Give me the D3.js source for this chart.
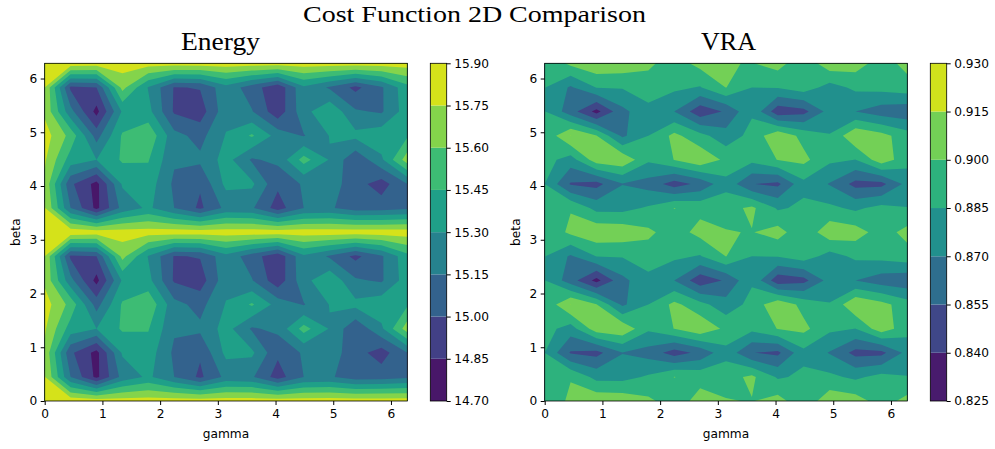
<!DOCTYPE html>
<html>
<head>
<meta charset="utf-8">
<script src="https://cdn.jsdelivr.net/npm/d3@7"></script>
<style>
  html, body { margin: 0; padding: 0; background: #fff; }
  svg { display: block; }
  .tick text { font-family: "DejaVu Sans", sans-serif; font-size: 12.2px; fill: #000; }
  .axis-label { font-family: "DejaVu Sans", sans-serif; font-size: 12.2px; fill: #000; }
  .title { font-family: "Liberation Serif", serif; fill: #000; }
</style>
</head>
<body>
<svg id="chart" width="995" height="449"></svg>
<script>
const gammaTicks = [0, 1, 2, 3, 4, 5, 6];
const betaTicks = [0, 1, 2, 3, 4, 5, 6];

const energyLevels = [14.70, 14.85, 15.00, 15.15, 15.30, 15.45, 15.60, 15.75, 15.90];
const vraLevels = [0.825, 0.840, 0.855, 0.870, 0.885, 0.900, 0.915, 0.930];

// one row per beta step (beta = 0 first), one column per gamma step
const energyValues = [
  [15.88,15.85,15.83,15.82,15.82,15.83,15.83,15.83,15.83,15.83,15.83,15.83,15.83,15.83,15.83],
  [15.76,15.15,14.81,15.20,15.33,15.15,14.97,15.19,15.17,14.93,15.15,15.17,15.07,15.08,15.12],
  [15.72,15.03,14.80,15.32,15.38,15.12,15.02,15.34,15.33,15.03,15.17,15.23,15.06,14.93,15.15],
  [15.77,15.38,15.30,15.47,15.46,15.17,15.18,15.36,15.13,15.19,15.51,15.29,15.03,15.27,15.68],
  [15.82,15.55,15.09,15.47,15.57,15.20,15.10,15.31,15.47,15.24,15.14,15.305,15.34,15.40,15.43],
  [15.72,15.20,14.80,15.32,15.35,14.98,14.92,15.25,15.16,14.90,15.25,15.42,15.17,15.13,15.38],
  [15.75,14.97,15.00,15.65,15.29,14.99,15.01,15.25,15.07,14.89,15.27,15.13,14.96,15.13,15.40],
  [15.88,15.85,15.83,15.82,15.82,15.83,15.83,15.83,15.83,15.83,15.83,15.83,15.83,15.83,15.83],
  [15.76,15.15,14.81,15.20,15.33,15.15,14.97,15.19,15.17,14.93,15.15,15.17,15.07,15.08,15.12],
  [15.72,15.03,14.80,15.32,15.38,15.12,15.02,15.34,15.33,15.03,15.17,15.23,15.06,14.93,15.15],
  [15.77,15.38,15.30,15.47,15.46,15.17,15.18,15.36,15.13,15.19,15.51,15.29,15.03,15.27,15.68],
  [15.82,15.55,15.09,15.47,15.57,15.20,15.10,15.31,15.47,15.24,15.14,15.305,15.34,15.40,15.43],
  [15.72,15.20,14.80,15.32,15.35,14.98,14.92,15.25,15.16,14.90,15.25,15.42,15.17,15.13,15.38],
  [15.75,14.97,15.00,15.65,15.29,14.99,15.01,15.25,15.07,14.89,15.27,15.13,14.96,15.13,15.40],
  [15.88,15.85,15.83,15.82,15.82,15.83,15.83,15.83,15.83,15.83,15.83,15.83,15.83,15.83,15.83]
];

const vraValues = [
  [.887,.9035,.9116,.910,.903,.8928,.905,.9008,.8994,.906,.889,.910,.907,.893,.905],
  [.889,.899,.880,.880,.887,.9003,.8956,.8944,.903,.883,.888,.8882,.882,.890,.8855],
  [.885,.8535,.850,.8695,.864,.848,.859,.880,.8555,.8515,.881,.869,.850,.8505,.875],
  [.891,.878,.9085,.912,.8875,.9003,.912,.8965,.889,.9005,.904,.888,.8848,.909,.8906],
  [.888,.9153,.9005,.867,.885,.904,.890,.876,.890,.912,.895,.8858,.9135,.905,.892],
  [.8855,.862,.835,.866,.8805,.870,.845,.857,.883,.845,.850,.876,.870,.862,.859],
  [.8855,.868,.8855,.886,.893,.888,.884,.9003,.885,.886,.893,.879,.888,.890,.894],
  [.887,.9035,.9116,.910,.903,.8928,.905,.9008,.8994,.906,.889,.910,.907,.893,.905],
  [.889,.899,.880,.880,.887,.9003,.8956,.8944,.903,.883,.888,.8882,.882,.890,.8855],
  [.885,.8535,.850,.8695,.864,.848,.859,.880,.8555,.8515,.881,.869,.850,.8505,.875],
  [.891,.878,.9085,.912,.8875,.9003,.912,.8965,.889,.9005,.904,.888,.8848,.909,.8906],
  [.888,.9153,.9005,.867,.885,.904,.890,.876,.890,.912,.895,.8858,.9135,.905,.892],
  [.8855,.862,.835,.866,.8805,.870,.845,.857,.883,.845,.850,.876,.870,.862,.859],
  [.8855,.868,.8855,.886,.893,.888,.884,.9003,.885,.886,.893,.879,.888,.890,.894],
  [.887,.9035,.9116,.910,.903,.8928,.905,.9008,.8994,.906,.889,.910,.907,.893,.905]
];

const svg = d3.select("#chart");

const plotTop = 63.3;
const plotBottom = 401;
const plotWidth = 362.6;
const barWidth = 16.4;
const barGap = 23;
const twoPi = 2 * Math.PI;

function drawPanel(id, left, name, nameLeft, nameWidth, grid, levels, tickFormat) {
  const rows = grid.length;
  const cols = grid[0].length;
  const step = twoPi / (cols - 1);

  const x = d3.scaleLinear().domain([0, twoPi]).range([left, left + plotWidth]);
  const y = d3.scaleLinear().domain([0, twoPi]).range([plotBottom, plotTop]);

  const color = d3.scaleSequential(d3.interpolateViridis)
    .domain([levels[0], levels[levels.length - 1]]);
  const bandColor = i => color((levels[i] + levels[i + 1]) / 2);

  svg.append("clipPath").attr("id", "clip-" + id)
    .append("rect")
    .attr("x", left).attr("y", plotTop)
    .attr("width", plotWidth).attr("height", plotBottom - plotTop);

  // d3.contours puts grid value k at k + 0.5
  const gridToData = d3.geoTransform({
    point(px, py) {
      this.stream.point(x((px - 0.5) * step), y((py - 0.5) * step));
    }
  });
  const path = d3.geoPath(gridToData);

  const contours = d3.contours()
    .size([cols, rows])
    .thresholds(levels.slice(0, -1))(d3.merge(grid));

  svg.append("g").attr("clip-path", `url(#clip-${id})`)
    .selectAll("path")
    .data(contours)
    .join("path")
    .attr("d", path)
    .attr("fill", (d, i) => bandColor(i));

  const xAxis = d3.axisBottom(x).tickValues(gammaTicks).tickFormat(d3.format("d")).tickSize(4).tickPadding(4.5);
  const yAxis = d3.axisLeft(y).tickValues(betaTicks).tickFormat(d3.format("d")).tickSize(4).tickPadding(3.5);

  svg.append("g").attr("transform", `translate(0,${plotBottom})`).call(xAxis)
    .call(g => g.select(".domain").remove());
  svg.append("g").attr("transform", `translate(${left},0)`).call(yAxis)
    .call(g => g.select(".domain").remove());

  svg.append("rect")
    .attr("x", left).attr("y", plotTop)
    .attr("width", plotWidth).attr("height", plotBottom - plotTop)
    .attr("fill", "none").attr("stroke", "#000").attr("stroke-width", 0.8);

  svg.append("text").attr("class", "axis-label")
    .attr("x", left + plotWidth / 2).attr("y", 437.5)
    .attr("text-anchor", "middle").text("gamma");
  svg.append("text").attr("class", "axis-label")
    .attr("transform", `translate(${left - 25},${(plotTop + plotBottom) / 2}) rotate(-90)`)
    .attr("text-anchor", "middle").text("beta");

  svg.append("text").attr("class", "title")
    .attr("x", nameLeft).attr("y", 50)
    .attr("font-size", 25)
    .attr("textLength", nameWidth)
    .attr("lengthAdjust", "spacingAndGlyphs")
    .text(name);

  // colour bar
  const barLeft = left + plotWidth + barGap;
  const barY = d3.scaleLinear()
    .domain([levels[0], levels[levels.length - 1]])
    .range([plotBottom, plotTop]);

  svg.append("g").selectAll("rect")
    .data(d3.range(levels.length - 1))
    .join("rect")
    .attr("x", barLeft)
    .attr("width", barWidth)
    .attr("y", i => barY(levels[i + 1]))
    .attr("height", i => barY(levels[i]) - barY(levels[i + 1]))
    .attr("fill", i => bandColor(i));

  svg.append("g").attr("transform", `translate(${barLeft + barWidth},0)`)
    .call(d3.axisRight(barY).tickValues(levels).tickFormat(d3.format(tickFormat)).tickSize(4).tickPadding(3.5))
    .call(g => g.select(".domain").remove());

  svg.append("rect")
    .attr("x", barLeft).attr("y", plotTop)
    .attr("width", barWidth).attr("height", plotBottom - plotTop)
    .attr("fill", "none").attr("stroke", "#000").attr("stroke-width", 0.8);
}

drawPanel("energy", 44.7, "Energy", 181, 79, energyValues, energyLevels, ".2f");
drawPanel("vra", 544.7, "VRA", 701, 55, vraValues, vraLevels, ".3f");

svg.append("text").attr("class", "title")
  .attr("x", 303).attr("y", 21.5)
  .attr("font-size", 24)
  .attr("textLength", 343)
  .attr("lengthAdjust", "spacingAndGlyphs")
  .text("Cost Function 2D Comparison");
</script>
</body>
</html>
